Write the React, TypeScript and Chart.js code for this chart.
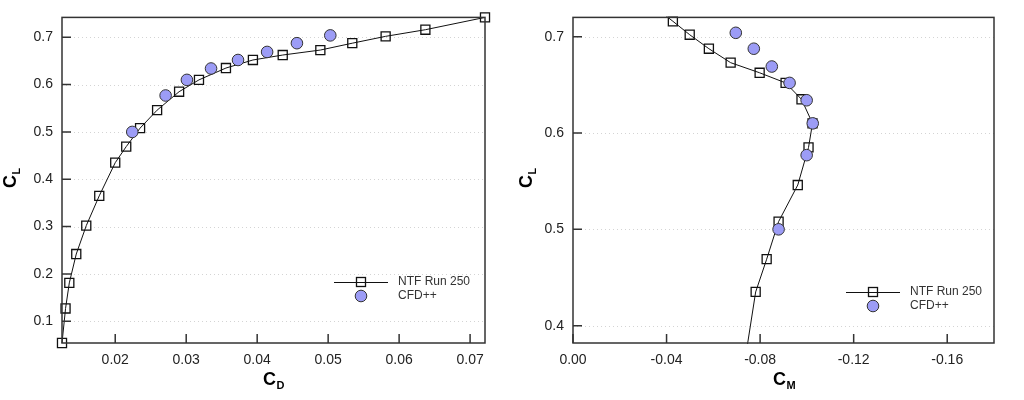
import React, { useEffect, useRef } from "react";
import { Chart, registerables } from "chart.js";

Chart.register(...registerables);

const FONT = "'Liberation Sans', Arial, Helvetica, sans-serif";

// NTF Run 250 - drag polar
const ntfCd = [
  0.0125, 0.013, 0.01353, 0.01451, 0.01592, 0.01775, 0.02, 0.02155, 0.0235, 0.0259,
  0.029, 0.0318, 0.0356, 0.0394, 0.0436, 0.0489, 0.0534, 0.0581, 0.0637, 0.0721,
];
const ntfCl = [
  0.054, 0.127, 0.181, 0.242, 0.302, 0.365, 0.435, 0.469, 0.508, 0.546,
  0.585, 0.61, 0.635, 0.652, 0.6625, 0.673, 0.6875, 0.702, 0.716, 0.742,
];
// NTF Run 250 - pitching moment, points from CL = 0.365 up
const ntfCmCl = ntfCl.slice(5);
const ntfCm = [
  -0.0736, -0.0781, -0.0828, -0.0879, -0.0961, -0.1007, -0.1024, -0.0977, -0.0909, -0.0798,
  -0.0674, -0.0581, -0.0499, -0.0427, -0.029,
];

// CFD++
const cfdCl = [0.5, 0.577, 0.61, 0.634, 0.652, 0.669, 0.6875, 0.704];
const cfdCd = [0.0224, 0.0271, 0.0301, 0.0335, 0.0373, 0.0414, 0.0456, 0.0503];
const cfdCm = [-0.0879, -0.0999, -0.1025, -0.0999, -0.0926, -0.085, -0.0773, -0.0696];

const cdTicks = [0.02, 0.03, 0.04, 0.05, 0.06, 0.07];
const clTicksPolar = [0.1, 0.2, 0.3, 0.4, 0.5, 0.6, 0.7];
const cmTicks = [0, -0.04, -0.08, -0.12, -0.16];
const clTicksMoment = [0.4, 0.5, 0.6, 0.7];

type Axis = { min: number; max: number; ticks: number[]; digits: number; reverse?: boolean };

type PanelSpec = {
  ntfX: number[];
  ntfY: number[];
  cfdX: number[];
  cfdY: number[];
  x: Axis;
  y: Axis;
  yAxisWidth: number;
  padRight: number;
  clip: false | number;
  xSub: string;
  xTitleLeft: number;
  yTitleX: number;
  legendY: number;
};

const toPoints = (xs: number[], ys: number[]) => xs.map((x, i) => ({ x, y: ys[i] }));

const drawTitle = (ctx: CanvasRenderingContext2D, sub: string, x: number, y: number) => {
  ctx.font = `bold 18px ${FONT}`;
  ctx.textAlign = "left";
  ctx.textBaseline = "alphabetic";
  ctx.fillText("C", x, y);
  const w = ctx.measureText("C").width;
  ctx.font = `bold 11px ${FONT}`;
  ctx.fillText(sub, x + w + 0.5, y + 4);
};

const drawSquare = (ctx: CanvasRenderingContext2D, x: number, y: number) => {
  ctx.strokeStyle = "#111";
  ctx.lineWidth = 1.3;
  ctx.strokeRect(x - 4.5, y - 4.5, 9, 9);
};

const drawCircle = (ctx: CanvasRenderingContext2D, x: number, y: number) => {
  ctx.beginPath();
  ctx.arc(x, y, 5.8, 0, Math.PI * 2);
  ctx.fillStyle = "#9c9cf6";
  ctx.fill();
  ctx.strokeStyle = "#333";
  ctx.lineWidth = 1;
  ctx.stroke();
};

const Panel = ({ spec }: { spec: PanelSpec }) => {
  const canvasRef = useRef<HTMLCanvasElement | null>(null);

  useEffect(() => {
    if (!canvasRef.current) return;

    const frame = {
      id: "frame",
      beforeDatasetsDraw(chart: Chart) {
        const { ctx, chartArea: a, scales } = chart;
        ctx.save();
        ctx.strokeStyle = "#d4d4d4";
        ctx.lineWidth = 1;
        ctx.setLineDash([1, 3]);
        spec.y.ticks.forEach((v) => {
          const py = Math.round(scales.y.getPixelForValue(v)) + 0.5;
          ctx.beginPath();
          ctx.moveTo(a.left, py);
          ctx.lineTo(a.right, py);
          ctx.stroke();
        });
        ctx.restore();
      },
      afterDraw(chart: Chart) {
        const { ctx, chartArea: a, scales } = chart;
        ctx.save();
        ctx.strokeStyle = "#333";
        ctx.lineWidth = 1.5;
        ctx.strokeRect(a.left, a.top, a.right - a.left, a.bottom - a.top);
        ctx.beginPath();
        spec.x.ticks.forEach((v) => {
          const px = scales.x.getPixelForValue(v);
          ctx.moveTo(px, a.bottom);
          ctx.lineTo(px, a.bottom - 9);
        });
        spec.y.ticks.forEach((v) => {
          const py = scales.y.getPixelForValue(v);
          ctx.moveTo(a.left, py);
          ctx.lineTo(a.left + 9, py);
        });
        ctx.stroke();

        // axis titles
        ctx.fillStyle = "#000";
        drawTitle(ctx, spec.xSub, spec.xTitleLeft, 385);
        ctx.save();
        ctx.font = `bold 18px ${FONT}`;
        const cw = ctx.measureText("C").width;
        ctx.font = `bold 11px ${FONT}`;
        const total = cw + 0.5 + ctx.measureText("L").width;
        ctx.translate(spec.yTitleX, 178);
        ctx.rotate(-Math.PI / 2);
        drawTitle(ctx, "L", -total / 2, 6);
        ctx.restore();

        // legend
        const ly = spec.legendY;
        ctx.strokeStyle = "#111";
        ctx.lineWidth = 1;
        ctx.beginPath();
        ctx.moveTo(334, ly + 0.5);
        ctx.lineTo(388, ly + 0.5);
        ctx.stroke();
        drawSquare(ctx, 361, ly);
        drawCircle(ctx, 361, ly + 14);
        ctx.fillStyle = "#333";
        ctx.font = `12px ${FONT}`;
        ctx.textAlign = "left";
        ctx.textBaseline = "middle";
        ctx.fillText("NTF Run 250", 398, ly);
        ctx.fillText("CFD++", 398, ly + 14);
        ctx.restore();
      },
    };

    const axis = (ax: Axis, isX: boolean) => ({
      type: "linear" as const,
      min: ax.min,
      max: ax.max,
      reverse: !!ax.reverse,
      grid: { display: false, drawTicks: false },
      border: { display: false },
      afterBuildTicks: (scale: any) => {
        scale.ticks = ax.ticks.map((value) => ({ value }));
      },
      afterFit: (scale: any) => {
        if (isX) scale.height = 57;
        else scale.width = spec.yAxisWidth;
      },
      ticks: {
        padding: 9,
        color: "#222",
        font: { family: FONT, size: 14 },
        maxRotation: 0,
        autoSkip: false,
        callback: (v: any) => Number(v).toFixed(ax.digits),
      },
    });

    const chart = new Chart(canvasRef.current, {
      type: "scatter",
      data: {
        datasets: [
          {
            label: "NTF Run 250",
            data: toPoints(spec.ntfX, spec.ntfY),
            order: 1,
            showLine: true,
            borderColor: "#111",
            borderWidth: 1,
            tension: 0,
            pointStyle: "rect",
            pointRadius: 6.4,
            pointBorderWidth: 1.3,
            pointBorderColor: "#111",
            pointBackgroundColor: "rgba(0,0,0,0)",
            clip: spec.clip as any,
          },
          {
            label: "CFD++",
            data: toPoints(spec.cfdX, spec.cfdY),
            order: 0,
            showLine: false,
            pointStyle: "circle",
            pointRadius: 5.8,
            pointBorderWidth: 1,
            pointBorderColor: "#333",
            pointBackgroundColor: "#9c9cf6",
            clip: false as any,
          },
        ],
      },
      options: {
        animation: false,
        responsive: true,
        maintainAspectRatio: false,
        layout: { padding: { top: 13, right: spec.padRight, bottom: 0, left: 0 } },
        plugins: { legend: { display: false }, tooltip: { enabled: false } },
        scales: { x: axis(spec.x, true), y: axis(spec.y, false) },
      },
      plugins: [frame],
    });

    return () => {
      chart.destroy();
    };
  }, [spec]);

  return <canvas ref={canvasRef} />;
};

const polarSpec: PanelSpec = {
  ntfX: ntfCd,
  ntfY: ntfCl,
  cfdX: cfdCd,
  cfdY: cfdCl,
  x: { min: 0.0125, max: 0.0721, ticks: cdTicks, digits: 2 },
  y: { min: 0.054, max: 0.742, ticks: clTicksPolar, digits: 1 },
  yAxisWidth: 62,
  padRight: 27,
  clip: false,
  xSub: "D",
  xTitleLeft: 263,
  yTitleX: 10,
  legendY: 282,
};

const momentSpec: PanelSpec = {
  ntfX: ntfCm,
  ntfY: ntfCmCl,
  cfdX: cfdCm,
  cfdY: cfdCl,
  x: { min: -0.18, max: 0, ticks: cmTicks, digits: 2, reverse: true },
  y: { min: 0.382, max: 0.72, ticks: clTicksMoment, digits: 1 },
  yAxisWidth: 61,
  padRight: 30,
  clip: 1,
  xSub: "M",
  xTitleLeft: 261,
  yTitleX: 14,
  legendY: 292,
};

export default function App() {
  return (
    <div style={{ position: "absolute", left: 0, top: 0, width: 1024, height: 400, background: "#fff" }}>
      <div style={{ position: "absolute", left: 0, top: 0, width: 512, height: 400 }}>
        <Panel spec={polarSpec} />
      </div>
      <div style={{ position: "absolute", left: 512, top: 0, width: 512, height: 400 }}>
        <Panel spec={momentSpec} />
      </div>
    </div>
  );
}
